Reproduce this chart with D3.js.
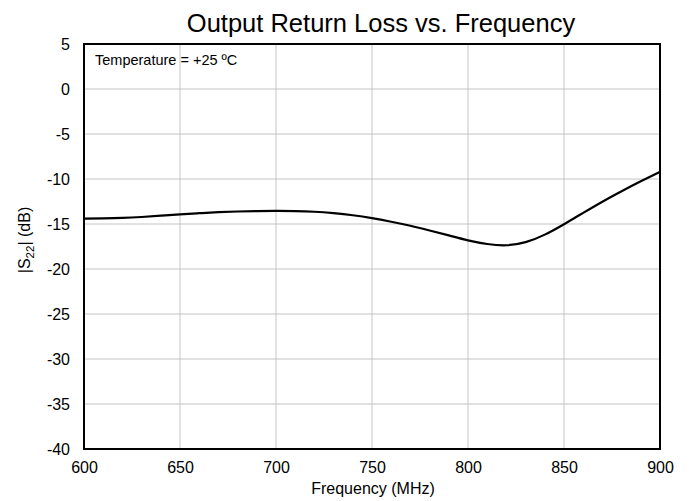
<!DOCTYPE html>
<html><head><meta charset="utf-8">
<script src="https://cdn.jsdelivr.net/npm/d3@7"></script>
<style>body{margin:0;background:#fff}svg{display:block;font-family:"Liberation Sans",Arial,sans-serif}</style>
</head><body><svg id="c" width="692" height="501"></svg>
<script>
const freq = [600,610,620,630,640,650,660,670,680,690,700,710,720,730,740,750,760,770,780,790,800,810,820,830,840,850,860,870,880,890,900];
const s22 = [-14.4,-14.38,-14.33,-14.22,-14.07,-13.92,-13.8,-13.69,-13.61,-13.56,-13.54,-13.56,-13.64,-13.8,-14.03,-14.35,-14.75,-15.2,-15.72,-16.27,-16.82,-17.22,-17.36,-17.02,-16.18,-15.02,-13.76,-12.52,-11.36,-10.26,-9.2];
const xTicks = [600,650,700,750,800,850,900];
const yTicks = [5,0,-5,-10,-15,-20,-25,-30,-35,-40];

const svg = d3.select("#c");
const L=84,R=660,T=44,B=449;
const x = d3.scaleLinear().domain([600,900]).range([L,R]);
const y = d3.scaleLinear().domain([-40,5]).range([B,T]);
const FF = "Liberation Sans, Arial, sans-serif";

const g = svg.append("g");
g.selectAll(".gx").data(xTicks).enter().append("line")
 .attr("x1",d=>x(d)).attr("x2",d=>x(d)).attr("y1",T).attr("y2",B)
 .attr("stroke","#c4c4c4").attr("stroke-width",1);
g.selectAll(".gy").data(yTicks).enter().append("line")
 .attr("x1",L).attr("x2",R).attr("y1",d=>y(d)).attr("y2",d=>y(d))
 .attr("stroke","#c4c4c4").attr("stroke-width",1);

const line = d3.line().x((d,i)=>x(freq[i])).y(d=>y(d)).curve(d3.curveNatural);
svg.append("path").datum(s22).attr("d",line).attr("fill","none")
 .attr("stroke","#000").attr("stroke-width",2.2);

svg.append("rect").attr("x",L).attr("y",T).attr("width",R-L).attr("height",B-T)
 .attr("fill","none").attr("stroke","#000").attr("stroke-width",2);

const fmt = d => String(d);
const xa = d3.axisBottom(x).tickValues(xTicks).tickFormat(fmt).tickSize(0).tickPadding(13);
svg.append("g").attr("transform",`translate(0,${B})`).call(xa)
 .call(s=>s.select(".domain").remove())
 .selectAll("text").attr("font-size",16).attr("fill","#000").attr("font-family",FF);
const ya = d3.axisLeft(y).tickValues(yTicks).tickFormat(fmt).tickSize(0).tickPadding(14);
svg.append("g").attr("transform",`translate(${L},0)`).call(ya)
 .call(s=>s.select(".domain").remove())
 .selectAll("text").attr("font-size",16).attr("fill","#000").attr("font-family",FF);

svg.append("text").attr("x",381).attr("y",32).attr("text-anchor","middle")
 .attr("font-size",25.5).text("Output Return Loss vs. Frequency");
svg.append("text").attr("x",373).attr("y",494).attr("text-anchor","middle")
 .attr("font-size",16).text("Frequency (MHz)");
const yl = svg.append("text").attr("transform","translate(30,240) rotate(-90)").attr("text-anchor","middle").attr("font-size",16);
yl.append("tspan").text("|S");
yl.append("tspan").attr("font-size",11.5).attr("dy",4).text("22");
yl.append("tspan").attr("dy",-4).text("| (dB)");
svg.append("text").attr("x",95).attr("y",65).attr("font-size",14.5).text("Temperature = +25 ºC");
</script></body></html>
